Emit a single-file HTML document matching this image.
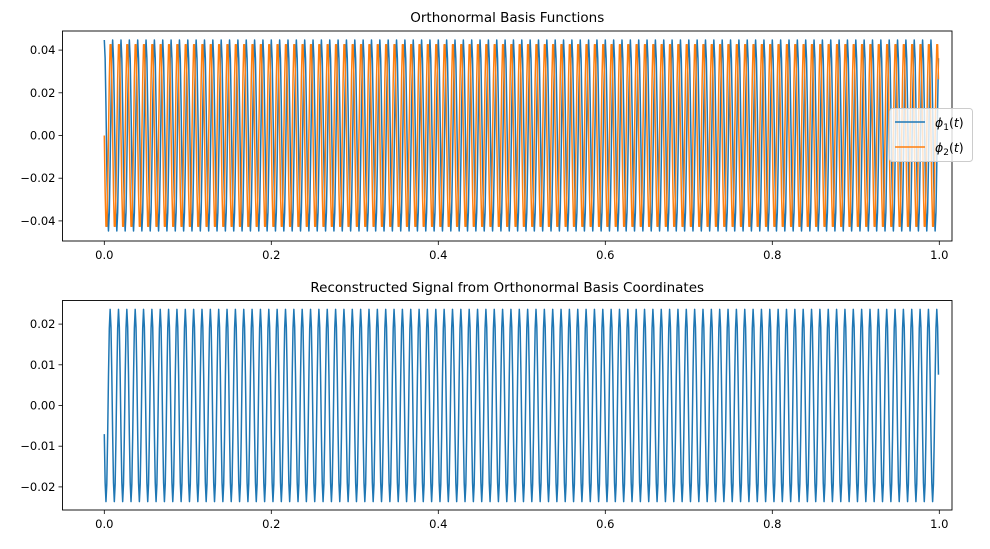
<!DOCTYPE html>
<html><head><meta charset="utf-8"><style>
body{margin:0;background:#fff;font-family:"Liberation Sans","DejaVu Sans",sans-serif;}
svg text{font-family:"DejaVu Sans","Liberation Sans",sans-serif;}
</style></head><body>
<svg id="chart" width="990" height="544" xmlns="http://www.w3.org/2000/svg">
<rect width="990" height="544" fill="#fff"/>
</svg>
<script>
// Data
const nSamples = [1000];
const freqHz = [100];
const basisAmplitude = [0.04472];
const coordinates = [-0.157, 0.504]; // signal coordinates on phi1, phi2
const xTicks = [0.0, 0.2, 0.4, 0.6, 0.8, 1.0];
const xTickLabels = ["0.0","0.2","0.4","0.6","0.8","1.0"];
const yTicksTop = [0.04, 0.02, 0.0, -0.02, -0.04];
const yTickLabelsTop = ["0.04","0.02","0.00","\u22120.02","\u22120.04"];
const yTicksBot = [0.02, 0.01, 0.0, -0.01, -0.02];
const yTickLabelsBot = ["0.02","0.01","0.00","\u22120.01","\u22120.02"];

const NS = "http://www.w3.org/2000/svg";
const svg = document.getElementById('chart');
function mk(tag, attrs, parent){const e=document.createElementNS(NS,tag);for(const k in attrs)e.setAttribute(k,attrs[k]);(parent||svg).appendChild(e);return e;}

const N = nSamples[0];
const t = [], phi1 = [], phi2 = [], sig = [];
for (let i=0;i<N;i++){
  const tt = i/N;
  t.push(tt);
  const a = 2*Math.PI*freqHz[0]*tt;
  phi1.push(basisAmplitude[0]*Math.cos(a));
  phi2.push(-basisAmplitude[0]*Math.sin(a));
  sig.push(coordinates[0]*phi1[i] + coordinates[1]*phi2[i]);
}

function xScale(v){return 104.3 + v*835;}
function makePanel(p){
  const g = mk('g',{});
  
  
  const yS = v => p.y0 - v*p.ppu;
  const tt = mk('text',{x:(p.left+p.right)/2,y:p.titleY,'text-anchor':'middle','font-size':'13.5',fill:'#000'},g);
  tt.textContent = p.title;
  
  
  p.series.forEach(s=>{
    let d='';
    for(let i=0;i<t.length;i++){d+=(i?'L':'M')+xScale(t[i]).toFixed(2)+','+yS(s.vals[i]).toFixed(2);}
    const path = mk('path',{d:d,fill:'none',stroke:s.color,'stroke-width':'1.5','stroke-linejoin':'round'},g);
    
    
  });
  const fr = mk('rect',{x:p.left,y:p.top,width:p.right-p.left,height:p.bottom-p.top,fill:'none',stroke:'#000','stroke-width':'0.9'},g);
  
  
  xTicks.forEach((v,i)=>{
    const x = xScale(v);
    mk('line',{x1:x,x2:x,y1:p.bottom,y2:p.bottom+4,stroke:'#000','stroke-width':'0.8'},g);
    const tx = mk('text',{x:x,y:p.bottom+18,'text-anchor':'middle','font-size':'11.5',fill:'#000'},g);
    tx.textContent = xTickLabels[i];
    
    
  });
  p.yTicks.forEach((v,i)=>{
    const y = yS(v);
    mk('line',{x1:p.left-4,x2:p.left,y1:y,y2:y,stroke:'#000','stroke-width':'0.8'},g);
    const ty = mk('text',{x:p.left-7,y:y+4,'text-anchor':'end','font-size':'11.5',fill:'#000'},g);
    ty.textContent = p.yLabels[i];
    
    
  });
}
makePanel({name:'basis-panel',title:'Orthonormal Basis Functions',titleY:22,left:62.5,right:952,top:31,bottom:241,y0:135.5,ppu:2135,
  yTicks:yTicksTop,yLabels:yTickLabelsTop,
  series:[{name:'phi1-line',vals:phi1,color:'#1f77b4'},{name:'phi2-line',vals:phi2,color:'#ff7f0e'}]});
makePanel({name:'signal-panel',title:'Reconstructed Signal from Orthonormal Basis Coordinates',titleY:292,left:62.5,right:952,top:300.5,bottom:510,y0:405.5,ppu:4070,
  yTicks:yTicksBot,yLabels:yTickLabelsBot,
  series:[{name:'signal-line',vals:sig,color:'#1f77b4'}]});

const lg = mk('g',{});


mk('rect',{x:889.5,y:108.5,width:83,height:53,rx:3,fill:'#fff','fill-opacity':'0.8',stroke:'#ccc','stroke-width':'1'},lg);
[['phi1','1','#1f77b4',122],['phi2','2','#ff7f0e',147]].forEach(e=>{
  const it = mk('g',{},lg);
  
  
  mk('line',{x1:895,x2:925,y1:e[3],y2:e[3],stroke:e[2],'stroke-width':'1.5'},it);
  const tx = mk('text',{x:935,y:e[3]+5,'font-size':'12.5',fill:'#000'},it);
  tx.innerHTML = '<tspan font-style="italic">\u03d5</tspan><tspan font-size="9" dy="3">'+e[1]+'</tspan><tspan dy="-3">(</tspan><tspan font-style="italic">t</tspan><tspan>)</tspan>';
});
</script>
</body></html>
